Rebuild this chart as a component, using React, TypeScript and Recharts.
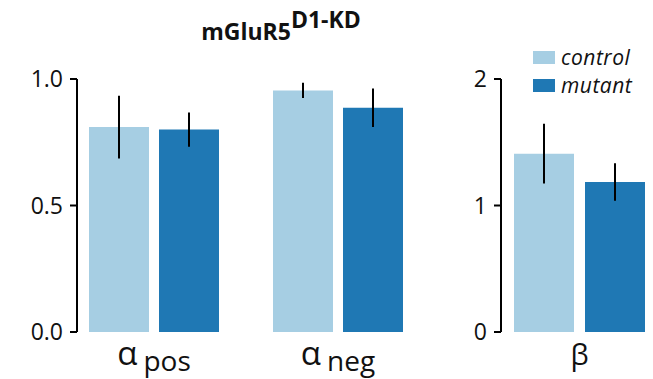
import React from 'react';
import { BarChart, Bar, XAxis, YAxis, ErrorBar, Legend } from 'recharts';

// ---- data ----
const alphaCategories = ['pos', 'neg'];
const alphaControl = [0.81, 0.955];
const alphaControlErr = [0.124, 0.03];
const alphaMutant = [0.8, 0.886];
const alphaMutantErr = [0.068, 0.076];

const betaCategories = ['β'];
const betaControl = [1.41];
const betaControlErr = [0.237];
const betaMutant = [1.186];
const betaMutantErr = [0.148];

const alphaTicks = [0, 0.5, 1];
const betaTicks = [0, 1, 2];
const seriesNames = ['control', 'mutant'];
const titleMain = 'mGluR5';
const titleSup = 'D1-KD';

const LIGHT = '#a6cee3';
const DARK = '#1f78b4';
const FONT = '"Open Sans", sans-serif';

const alphaData = alphaCategories.map((c, i) => ({
  cat: c,
  control: alphaControl[i],
  controlErr: alphaControlErr[i],
  mutant: alphaMutant[i],
  mutantErr: alphaMutantErr[i],
}));
const betaData = betaCategories.map((c, i) => ({
  cat: c,
  control: betaControl[i],
  controlErr: betaControlErr[i],
  mutant: betaMutant[i],
  mutantErr: betaMutantErr[i],
}));

const AlphaTick = (props: any) => {
  const { x, y, payload } = props;
  return (
    <text x={x} y={y} textAnchor="middle" fill="#111">
      <tspan fontSize={33} dy={33}>α</tspan>
      <tspan fontSize={28} dx={6} dy={6}>{payload.value}</tspan>
    </text>
  );
};

const BetaTick = (props: any) => {
  const { x, y, payload } = props;
  return (
    <text x={x} y={y} textAnchor="middle" fill="#111" fontSize={29} dy={33}>
      {payload.value}
    </text>
  );
};

const LegendContent = (props: any) => {
  const { payload } = props;
  return (
    <div>
      {(payload || []).map((e: any) => (
        <div key={e.value} style={{ display: 'flex', alignItems: 'center', height: 28 }}>
          <div style={{ width: 22, height: 13, background: e.color, marginRight: 6 }} />
          <span style={{ fontStyle: 'italic', fontSize: 21, letterSpacing: 0.5, color: '#111', fontFamily: FONT, lineHeight: '21px', display: 'block' }}>{e.value}</span>
        </div>
      ))}
    </div>
  );
};

const axisStroke = { stroke: '#000', strokeWidth: 2 };

export default function App() {
  return (
    <div style={{ position: 'absolute', left: 0, top: 0, width: 653, height: 379, background: '#fff', fontFamily: FONT, overflow: 'hidden' }}>
      <div style={{ position: 'absolute', left: 200, width: 162, textAlign: 'center', top: 15, fontSize: 23, fontWeight: 700, color: '#111', whiteSpace: 'nowrap', lineHeight: 'normal' }}>
        {titleMain}
        <span style={{ position: 'relative', top: -12 }}>{titleSup}</span>
      </div>

      <div style={{ position: 'absolute', left: 0, top: 0 }}>
        <BarChart width={430} height={379} data={alphaData} margin={{ top: 79, right: 0, bottom: 0, left: 0 }} barSize={60} barGap={10}>
          <YAxis
            width={77}
            domain={[0, 1]}
            ticks={alphaTicks}
            type="number"
            tickFormatter={(v: number) => v.toFixed(1)}
            axisLine={axisStroke}
            tickLine={axisStroke}
            tickSize={7}
            tickMargin={7}
            tick={{ fontSize: 23, fill: '#111' }}
          />
          <XAxis dataKey="cat" height={47} axisLine={false} tickLine={false} tickSize={0} tickMargin={0} tick={<AlphaTick />} padding={{ left: -15, right: 0 }} interval={0} />
          <Bar dataKey="control" name={seriesNames[0]} fill={LIGHT} isAnimationActive={false}>
            <ErrorBar dataKey="controlErr" width={0} stroke="#000" strokeWidth={2} />
          </Bar>
          <Bar dataKey="mutant" name={seriesNames[1]} fill={DARK} isAnimationActive={false}>
            <ErrorBar dataKey="mutantErr" width={0} stroke="#000" strokeWidth={2} />
          </Bar>
        </BarChart>
      </div>

      <div style={{ position: 'absolute', left: 430, top: 0 }}>
        <BarChart width={223} height={379} data={betaData} margin={{ top: 79, right: 0, bottom: 0, left: 0 }} barSize={60} barGap={11}>
          <YAxis
            width={71}
            domain={[0, 2]}
            ticks={betaTicks}
            type="number"
            axisLine={axisStroke}
            tickLine={axisStroke}
            tickSize={7}
            tickMargin={7}
            tick={{ fontSize: 23, fill: '#111' }}
          />
          <XAxis dataKey="cat" height={47} axisLine={false} tickLine={false} tickSize={0} tickMargin={0} tick={<BetaTick />} padding={{ left: 5, right: 0 }} interval={0} />
          <Legend
            layout="vertical"
            align="center"
            verticalAlign="middle"
            content={<LegendContent />}
            wrapperStyle={{ top: 43, left: 103, width: 'auto' }}
          />
          <Bar dataKey="control" name={seriesNames[0]} fill={LIGHT} isAnimationActive={false}>
            <ErrorBar dataKey="controlErr" width={0} stroke="#000" strokeWidth={2} />
          </Bar>
          <Bar dataKey="mutant" name={seriesNames[1]} fill={DARK} isAnimationActive={false}>
            <ErrorBar dataKey="mutantErr" width={0} stroke="#000" strokeWidth={2} />
          </Bar>
        </BarChart>
      </div>
    </div>
  );
}
